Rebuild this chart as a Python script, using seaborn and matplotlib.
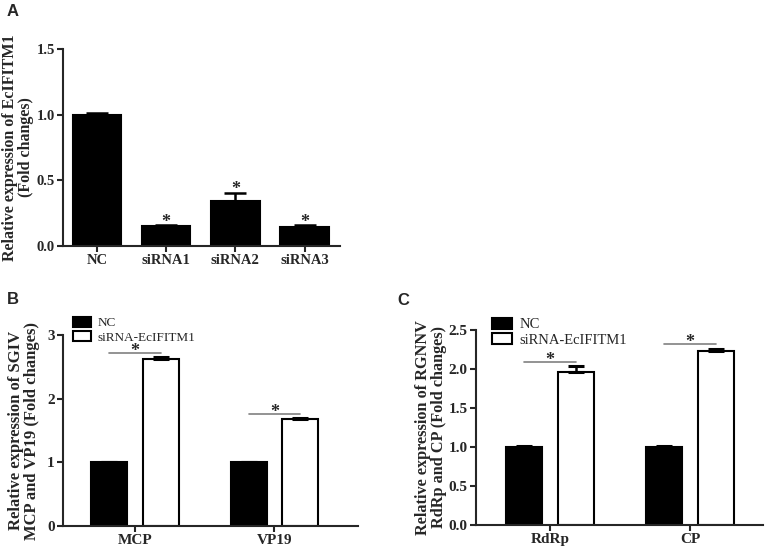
import pandas as pd
import matplotlib
matplotlib.use("Agg")
import matplotlib.pyplot as plt
import seaborn as sns

# panel A: knockdown efficiency
a_groups = ["NC", "siRNA1", "siRNA2", "siRNA3"]
a_means = [1.0, 0.155, 0.34, 0.145]
a_err = [0.01, 0.005, 0.065, 0.015]

# panel B: SGIV genes
b_genes = ["MCP", "VP19"]
b_nc = [1.0, 1.0]
b_nc_err = [0.01, 0.01]
b_si = [2.62, 1.68]
b_si_err = [0.03, 0.01]
b_line_y = [2.71, 1.76]

# panel C: RGNNV genes
c_genes = ["RdRp", "CP"]
c_nc = [1.0, 1.0]
c_nc_err = [0.01, 0.01]
c_si = [1.96, 2.23]
c_si_err = [0.08, 0.02]
c_line_y = [2.09, 2.32]

hue_levels = ["NC", "siRNA-EcIFITM1"]

sns.set_style("ticks")
plt.rcParams["font.family"] = ["Liberation Serif", "DejaVu Serif"]
plt.rcParams["axes.linewidth"] = 1.5
plt.rcParams["xtick.major.width"] = 1.5
plt.rcParams["ytick.major.width"] = 1.5
plt.rcParams["xtick.major.size"] = 4
plt.rcParams["ytick.major.size"] = 4

fig = plt.figure(figsize=(7.65, 5.5), dpi=100)
axA = fig.add_axes([0.0824, 0.5527, 0.3621, 0.3583])
axB = fig.add_axes([0.0824, 0.0436, 0.3856, 0.3473])
axC = fig.add_axes([0.6222, 0.0455, 0.3752, 0.3545])


def style_axes(ax, ylabel, yticks, ylabels, tsize, lsize, pad):
    sns.despine(ax=ax)
    ax.set_yticks(yticks)
    ax.set_yticklabels(ylabels, fontsize=tsize, fontweight="bold")
    for lab in ax.get_xticklabels():
        lab.set_fontweight("bold")
        lab.set_fontsize(tsize)
    ax.set_xlabel("")
    ax.set_ylabel(ylabel, fontsize=lsize, fontweight="bold", labelpad=pad, linespacing=1.0)
    ax.tick_params(axis="both", direction="out", pad=2)


def star(ax, x, y):
    ax.annotate("*", (x, y), xytext=(0, -5), textcoords="offset points",
                ha="center", va="bottom", fontsize=13, fontweight="bold")


# ---- A ----
dfA = pd.DataFrame({"group": a_groups, "value": a_means})
sns.barplot(data=dfA, x="group", y="value", color="black", edgecolor="black",
            linewidth=1.5, width=0.7, errorbar=None, ax=axA, saturation=1)
for bar, e, g in zip(axA.containers[0], a_err, a_groups):
    xc = bar.get_x() + bar.get_width() / 2
    top = bar.get_height()
    axA.errorbar(xc, top, yerr=[[0], [e]], color="black", capsize=8, elinewidth=1.8, capthick=1.8)
    if g != "NC":
        star(axA, xc, top + e + 0.01)
axA.set_xlim(-0.493, 3.514)
axA.set_ylim(0, 1.5)
style_axes(axA, "Relative expression of EcIFITM1\n(Fold changes)", [0, 0.5, 1.0, 1.5],
           ["0.0", "0.5", "1.0", "1.5"], 10.5, 11.5, 2)


def grouped(ax, genes, nc, nc_err, si, si_err, line_y, capsize):
    df = pd.DataFrame({
        "gene": genes + genes,
        "group": [hue_levels[0]] * len(genes) + [hue_levels[1]] * len(genes),
        "value": nc + si,
    })
    sns.barplot(data=df, x="gene", y="value", hue="group", hue_order=hue_levels,
                palette={hue_levels[0]: "black", hue_levels[1]: "white"},
                edgecolor="black", linewidth=1.5, width=0.74, gap=0.3,
                errorbar=None, ax=ax, saturation=1)
    errs = [nc_err, si_err]
    for cont, ee in zip(ax.containers, errs):
        for bar, e in zip(cont, ee):
            xc = bar.get_x() + bar.get_width() / 2
            ax.errorbar(xc, bar.get_height(), yerr=[[0], [e]], color="black",
                        capsize=capsize, elinewidth=1.8, capthick=2.2)
    for i in range(len(genes)):
        b0 = ax.containers[0][i]
        b1 = ax.containers[1][i]
        x0 = b0.get_x() + b0.get_width() / 2
        x1 = b1.get_x() + b1.get_width() / 2
        ax.plot([x0, x1], [line_y[i], line_y[i]], color="#808080", lw=1.2)
        star(ax, (x0 + x1) / 2, line_y[i])


# ---- B ----
grouped(axB, b_genes, b_nc, b_nc_err, b_si, b_si_err, b_line_y, 6)
axB.set_xlim(-0.516, 1.599)
axB.set_ylim(0, 3)
style_axes(axB, "Relative expression of SGIV\nMCP and VP19 (Fold changes)", [0, 1, 2, 3],
           ["0", "1", "2", "3"], 11, 12, 5)
axB.legend(loc="upper left", bbox_to_anchor=(0.01, 1.13), frameon=False, fontsize=9.5,
           handlelength=1.4, handleheight=0.8, labelspacing=0.15, borderpad=0, handletextpad=0.5)

# ---- C ----
grouped(axC, c_genes, c_nc, c_nc_err, c_si, c_si_err, c_line_y, 6)
axC.set_xlim(-0.529, 1.52)
axC.set_ylim(0, 2.5)
style_axes(axC, "Relative expression of RGNNV\nRdRp and CP (Fold changes)",
           [0, 0.5, 1.0, 1.5, 2.0, 2.5], ["0.0", "0.5", "1.0", "1.5", "2.0", "2.5"], 11, 11.7, 1)
axC.legend(loc="upper left", bbox_to_anchor=(0.03, 1.10), frameon=False, fontsize=10.5,
           handlelength=1.4, handleheight=0.8, labelspacing=0.1, borderpad=0, handletextpad=0.5)

for lab, x, y in [("A", 0.009, 0.979), ("B", 0.009, 0.456), ("C", 0.519, 0.454)]:
    fig.text(x, y, lab, fontsize=12, fontweight="bold", family=["Liberation Sans", "DejaVu Sans"],
             ha="left", va="center")

fig.savefig("out.png", dpi=100)
